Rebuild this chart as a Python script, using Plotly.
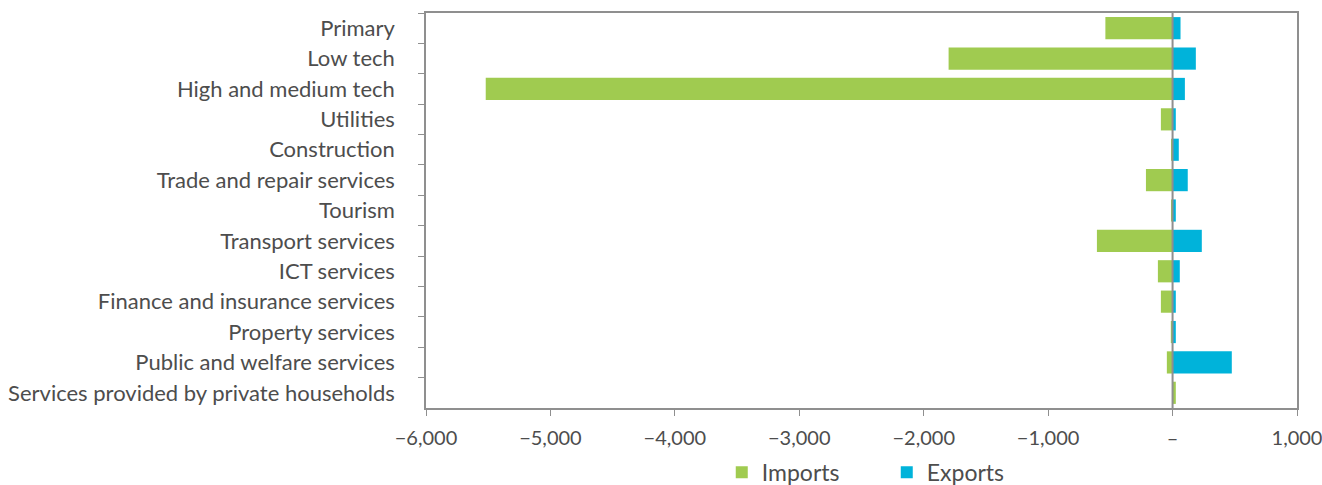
import plotly.graph_objects as go

categories = [
    "Primary", "Low tech", "High and medium tech", "Utilities", "Construction",
    "Trade and repair services", "Tourism", "Transport services", "ICT services",
    "Finance and insurance services", "Property services",
    "Public and welfare services", "Services provided by private households",
]
imports = [-540, -1800, -5520, -94, -5, -214, -5, -608, -118, -94, -14, -46, 26]
exports = [64, 187, 99, 26, 50, 122, 26, 235, 58, 26, 26, 476, 0]

tick_vals = [-6000, -5000, -4000, -3000, -2000, -1000, 0, 1000]
tick_text = ["\u22126,000", "\u22125,000", "\u22124,000", "\u22123,000",
             "\u22122,000", "\u22121,000", "\u2013", "1,000"]

GREEN = "#A0CB50"
BLUE = "#00B3DA"
FONT = "Lato"
TXT = "#4d4d4d"
AX = "#8f8f8f"

fig = go.Figure()
fig.add_trace(go.Bar(y=categories, x=imports, orientation="h", name="Imports",
                     marker=dict(color=GREEN, line=dict(width=0))))
fig.add_trace(go.Bar(y=categories, x=exports, orientation="h", name="Exports",
                     marker=dict(color=BLUE, line=dict(width=0))))

fig.add_shape(type="line", xref="x", yref="paper", x0=0, x1=0, y0=0, y1=1,
              line=dict(color=AX, width=2), layer="above")

fig.update_layout(
    width=1322, height=485,
    margin=dict(l=426, r=25, t=13, b=77, autoexpand=False),
    barmode="relative", bargap=0.27,
    plot_bgcolor="white", paper_bgcolor="white",
    font=dict(family=FONT, size=22, color=TXT),
    showlegend=True,
    legend=dict(orientation="h", x=0.529, xanchor="center", y=-0.163, yanchor="middle",
                font=dict(size=23, color=TXT), entrywidth=120, itemwidth=30,
                traceorder="normal"),
    xaxis=dict(range=[-6000, 1000], tickvals=tick_vals, ticktext=tick_text,
               showgrid=False, zeroline=False, showline=True, linecolor=AX,
               linewidth=1.5, mirror=True, ticks="outside", ticklen=6,
               tickcolor=AX, automargin=False, ticklabelstandoff=5,
               ticklabeloverflow="allow", tickfont=dict(size=20, color=TXT)),
    yaxis=dict(categoryorder="array", categoryarray=categories, autorange="reversed",
               showgrid=False, zeroline=False, showline=True, linecolor=AX,
               linewidth=1.5, mirror=True, ticks="outside", ticklen=6,
               tickcolor=AX, tickson="boundaries", ticklabelstandoff=25,
               automargin=False, tickfont=dict(size=22, color=TXT)),
)

fig.write_html(
    "out.html",
    config={"displayModeBar": False},
    post_script="document.body.style.margin='0';document.body.style.overflow='hidden';",
)
